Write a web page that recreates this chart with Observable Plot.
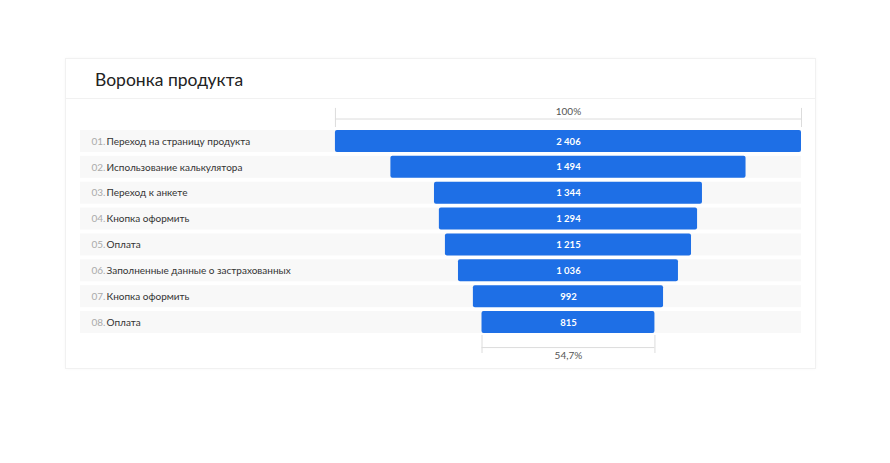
<!DOCTYPE html>
<html>
<head>
<meta charset="utf-8">
<script src="https://cdn.jsdelivr.net/npm/d3@7"></script>
<script src="https://cdn.jsdelivr.net/npm/@observablehq/plot@0.6"></script>
<style>
  html, body { margin: 0; padding: 0; background: #fff; width: 890px; height: 463px; overflow: hidden; }
  body { font-family: Lato, "Open Sans", sans-serif; }
  #card { position: absolute; left: 65px; top: 58px; width: 749px; height: 309px; border: 1px solid #f1f1f1; background: #fff; box-shadow: 0 0 3px rgba(0,0,0,0.03); }
  #title { height: 39px; border-bottom: 1px solid #f1f1f1; padding-left: 29px; font-size: 17.5px; line-height: 41px; color: #222; }
  #chart { position: absolute; left: -1px; top: 39px; }
</style>
</head>
<body>
<div id="card">
  <div id="title">Воронка продукта</div>
  <div id="chart"></div>
</div>
<script>
const stepNums = ["01.", "02.", "03.", "04.", "05.", "06.", "07.", "08."];
const stepNames = [
  "Переход на страницу продукта",
  "Использование калькулятора",
  "Переход к анкете",
  "Кнопка оформить",
  "Оплата",
  "Заполненные данные о застрахованных",
  "Кнопка оформить",
  "Оплата"
];
const users = [2406, 1494, 1344, 1294, 1215, 1036, 992, 815];
// bar width as share of the first bar (%)
const barShare = [100, 76.2, 57.5, 55.4, 52.8, 47.2, 40.8, 37.1];
const topLabel = "100%";
const bottomLabel = "54,7%";

const data = users.map((v, k) => ({i: k + 1, num: stepNums[k], name: stepNames[k], value: v, share: barShare[k]}));
const fmt = d3.formatLocale({decimal: ",", thousands: "\u00a0", grouping: [3], currency: ["", ""]}).format(",d");

const xMin = -54.7;
const half = 0.425;
const blue = "#1e6fe6";
const grey = "#dcdcdc";
const last = data[data.length - 1];
const font = "Lato, 'Open Sans', sans-serif";

const chart = Plot.plot({
  width: 749,
  height: 269,
  x: {domain: [xMin, 100], range: [15, 736], axis: null},
  y: {domain: [1, 8], range: [43, 224], axis: null},
  style: {fontFamily: font, background: "transparent", overflow: "visible"},
  marks: [
    Plot.rect(data, {x1: xMin, x2: 100, y1: d => d.i - half, y2: d => d.i + half, fill: "#f8f8f8"}),
    Plot.rect(data, {x1: d => 50 - d.share / 2, x2: d => 50 + d.share / 2, y1: d => d.i - half, y2: d => d.i + half, fill: blue, rx: 2}),
    Plot.text(data, {x: 50, y: "i", text: d => fmt(d.value), fill: "white", fontWeight: 700, fontSize: 9.5}),
    Plot.text(data, {x: xMin, y: "i", text: "num", textAnchor: "start", dx: 11, fill: "#aaaaaa", fontSize: 10}),
    Plot.text(data, {x: xMin, y: "i", text: "name", textAnchor: "start", dx: 26, fill: "#333333", fontSize: 10}),
    // top bracket (100%)
    Plot.ruleY([0.13], {x1: 50 - data[0].share / 2, x2: 50 + data[0].share / 2, stroke: grey}),
    Plot.ruleX([50 - data[0].share / 2, 50 + data[0].share / 2], {y1: -0.28, y2: 0.46, stroke: grey}),
    Plot.text([topLabel], {x: 50, y: -0.16, text: d => d, fill: "#555", fontSize: 10}),
    // bottom bracket
    Plot.ruleY([8.97], {x1: 50 - last.share / 2, x2: 50 + last.share / 2, stroke: grey}),
    Plot.ruleX([50 - last.share / 2, 50 + last.share / 2], {y1: 8.5, y2: 9.2, stroke: grey}),
    Plot.text([bottomLabel], {x: 50, y: 9.3, text: d => d, fill: "#555", fontSize: 10})
  ]
});
document.getElementById("chart").appendChild(chart);
</script>
</body>
</html>
